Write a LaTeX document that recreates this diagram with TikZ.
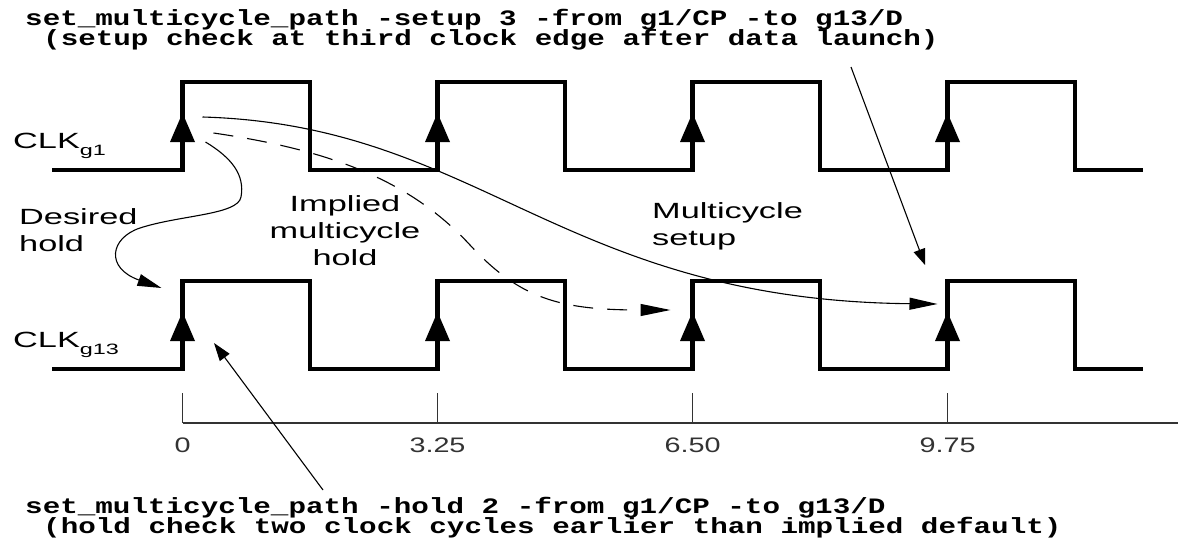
\documentclass[tikz,border=0pt]{standalone}
\usepackage{fontspec}
\usepackage{xcolor}
\usepackage{tikz}
\usetikzlibrary{positioning, arrows.meta}
\newfontfamily\sigfont{Liberation Sans}[FakeStretch=1.56]
\newfontfamily\tickfont{Liberation Sans}[FakeStretch=1.37]
\newfontfamily\cmdfont{Liberation Mono}[FakeStretch=1.33]
\definecolor{axisgray}{RGB}{51,51,51}

\begin{document}
\begin{tikzpicture}[x=1pt, y=-1pt,
      wave/.style={line width=4.5pt},
      lbl/.style={font=\sigfont\fontsize{22}{27}\selectfont, inner sep=0pt, align=left},
      cmd/.style={font=\cmdfont\bfseries\fontsize{22}{20}\selectfont, inner sep=0pt, anchor=base west},
      num/.style={font=\tickfont\fontsize{21}{21}\selectfont, inner sep=0pt, anchor=base, text=axisgray},
      tick/.style={axisgray, line width=1.1pt},
      ptr/.style={-{Triangle[length=#1, width=12pt]}, line width=1.1pt},
      ptr/.default=26pt]
    \useasboundingbox (0,0) rectangle (1178,538);
    \fill[white] (0,0) rectangle (1178,538);
    \foreach \row/\dy in {a/0, b/199} {
      \draw[wave] (52,170+\dy) foreach \i in {0,...,3} { -| (182.5+255*\i,82+\dy) -| (310+255*\i,170+\dy) } -- (1143,170+\dy);
      \foreach \i in {0,...,3} {
        \coordinate (\row\i) at (182.5+255*\i,113+\dy);
        \fill (\row\i) -- ++(12.5,29) -- ++(-25,0) -- cycle;
      }
    }
    \node[lbl, anchor=base west] (clka) at (13,148) {CLK\raisebox{-7.5pt}{\fontsize{15}{15}\selectfont g1}};
    \node[lbl, anchor=base west] (clkb) at (13,347) {CLK\raisebox{-7.5pt}{\fontsize{15}{15}\selectfont g13}};
    \node[lbl, anchor=north west] (desired) at (19,208) {Desired\\hold};
    \node[lbl, align=center, anchor=north] (implied) at (345,195) {Implied\\multicycle\\hold};
    \node[lbl, anchor=north west] (mcsetup) at (652,202) {Multicycle\\setup};
    \draw[tick] (182.5,423) -- (1178,423);
    \foreach \i/\t in {0/0, 1/3.25, 2/6.50, 3/9.75} {
      \draw[tick] (182.5+255*\i,393) -- (182.5+255*\i,423);
      \node[num] (t\i) at (182.5+255*\i,452) {\t};
    }
    \node[cmd] (setupcmd) at (25,25) {set\_multicycle\_path -setup 3 -from g1/CP -to g13/D};
    \node[cmd] (setupnote) at (43,45) {(setup check at third clock edge after data launch)};
    \node[cmd] (holdcmd) at (25,513) {set\_multicycle\_path -hold 2 -from g1/CP -to g13/D};
    \node[cmd] (holdnote) at (43,533) {(hold check two clock cycles earlier than implied default)};
    \coordinate (setuptail) at (851,67);
    \coordinate (holdtail) at (323,490);
    \draw[ptr=16pt] (setuptail) -- ([shift={(-22.5,-47)}]b3);
    \draw[ptr=18pt] (holdtail) -- ([shift={(31.5,31)}]b0);
    \draw[ptr=28pt] ([shift={(20,4)}]a0) .. controls (480,125) and (560,300) .. ([shift={(-10,-8)}]b3);
    \draw[ptr=30pt, dash pattern=on 20pt off 14pt] ([shift={(31,20)}]a0) .. controls (330,150) and (410,180) .. (470,245)
      .. controls (520,299) and (560,310) .. ([shift={(-22,-2)}]b2);
    \draw[ptr=24pt] ([shift={(23,29)}]a0) .. controls (232,158) and (245,175) .. (241,197)
      .. controls (238,215) and (180,215) .. (140,228) .. controls (110,238) and (105,268) .. ([shift={(-21,-24)}]b0);
  \end{tikzpicture}
\end{document}
